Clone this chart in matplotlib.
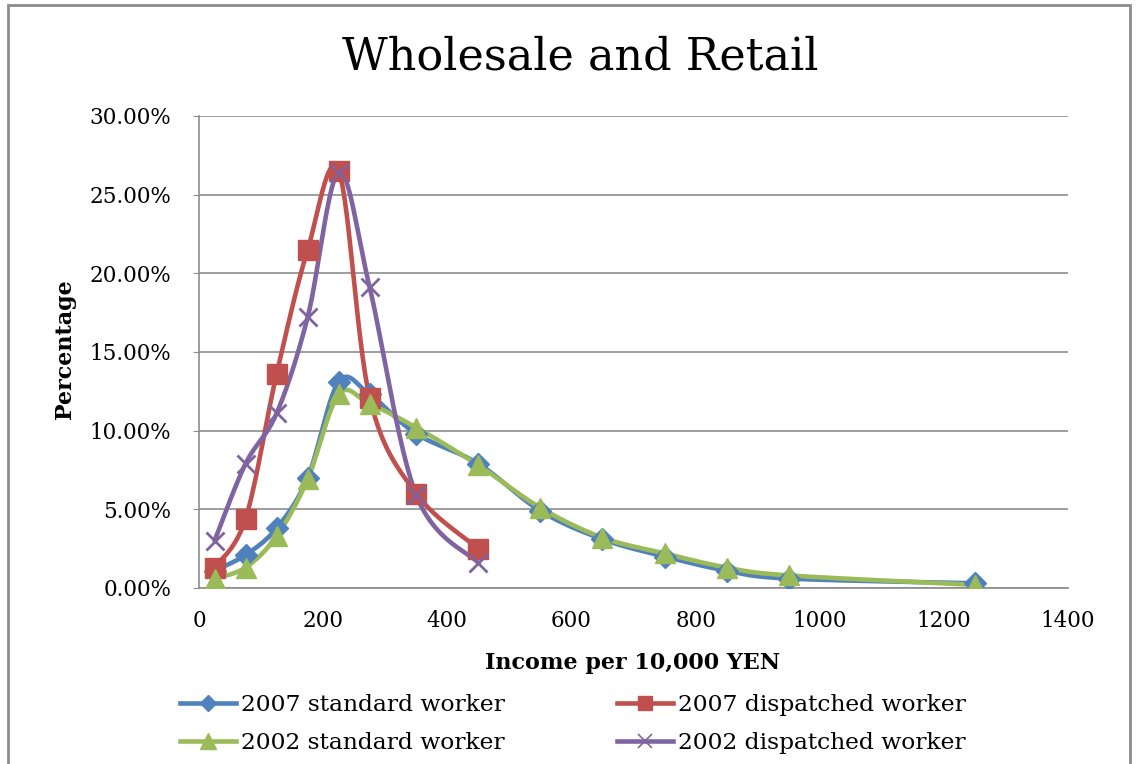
import matplotlib
matplotlib.use("Agg")
import matplotlib.pyplot as plt
from matplotlib.patches import Rectangle
from matplotlib.ticker import PercentFormatter
import numpy as np

# income bracket mid points (10,000 yen)
income_std = [25, 75, 125, 175, 225, 275, 350, 450, 550, 650, 750, 850, 950, 1250]
income_disp = [25, 75, 125, 175, 225, 275, 350, 450]

# percentages
std_2007 = [1.1, 2.1, 3.8, 7.0, 13.1, 12.3, 9.8, 7.9, 4.9, 3.1, 2.0, 1.1, 0.6, 0.3]
disp_2007 = [1.3, 4.4, 13.6, 21.5, 26.5, 12.1, 6.0, 2.5]
std_2002 = [0.6, 1.3, 3.3, 6.9, 12.3, 11.7, 10.2, 7.8, 5.1, 3.2, 2.2, 1.3, 0.8, 0.2]
disp_2002 = [3.0, 7.9, 11.1, 17.2, 26.4, 19.1, 5.9, 1.6]

labels = ["2007 standard worker", "2007 dispatched worker",
          "2002 standard worker", "2002 dispatched worker"]
colors = ["#4F81BD", "#C0504D", "#9BBB59", "#8064A2"]

plt.rcParams['font.family'] = ["DejaVu Serif"]


def smooth(x, y, n=30):
	# excel style smoothed line (catmull-rom bezier through the points)
	p = np.column_stack([x, y]).astype(float)
	out = []
	for i in range(len(p) - 1):
		p0 = p[i - 1] if i > 0 else p[i]
		p1 = p[i]
		p2 = p[i + 1]
		p3 = p[i + 2] if i + 2 < len(p) else p[i + 1]
		c1 = p1 + (p2 - p0) / 6.0
		c2 = p2 - (p3 - p1) / 6.0
		t = np.linspace(0, 1, n)[:, None]
		seg = ((1 - t) ** 3) * p1 + 3 * ((1 - t) ** 2) * t * c1 + 3 * (1 - t) * t ** 2 * c2 + t ** 3 * p2
		out.append(seg if i == 0 else seg[1:])
	out = np.vstack(out)
	return out[:, 0], out[:, 1]


W, H = 1137, 764
fig = plt.figure(figsize=(W / 100, H / 100), dpi=100)
fig.patch.set_facecolor("white")
fig.patches.append(Rectangle((8 / W, -0.05), (1130 - 8) / W, 1.05 - 5 / H,
                             transform=fig.transFigure, fill=False,
                             edgecolor="#8c8c8c", linewidth=2))

ax = fig.add_axes([199 / W, 1 - 588 / H, (1068 - 199) / W, (588 - 116) / H])

series = [
	(income_std, std_2007, "D", 11),
	(income_disp, disp_2007, "s", 14),
	(income_std, std_2002, "^", 15),
	(income_disp, disp_2002, "x", 13),
]
handles = []
for (xs, ys, mk, ms), lab, col in zip(series, labels, colors):
	sx, sy = smooth(xs, ys)
	ax.plot(sx, sy, color=col, linewidth=3.3, solid_capstyle="round", zorder=3)
	ax.plot(xs, ys, linestyle="none", marker=mk, markersize=ms, color=col,
	        markeredgewidth=1.0 if mk != "x" else 2, zorder=4)
	h, = plt.plot([], [], color=col, linewidth=3.3, marker=mk,
	              markersize=ms * 0.75, markeredgewidth=1.0 if mk != "x" else 1.2)
	handles.append(h)

ax.set_xlim(0, 1400)
ax.set_ylim(0, 30)
ax.set_xticks(np.arange(0, 1401, 200))
ax.set_yticks(np.arange(0, 30.1, 5))
ax.yaxis.set_major_formatter(PercentFormatter(decimals=2))
ax.grid(axis="y", color="#8c8c8c", linewidth=1.2)
ax.set_axisbelow(True)
for s in ["top", "right"]:
	ax.spines[s].set_visible(False)
for s in ["left", "bottom"]:
	ax.spines[s].set_color("#8c8c8c")
	ax.spines[s].set_linewidth(1.2)
ax.tick_params(axis="y", length=4, color="#8c8c8c", labelsize=15.5, pad=16)
ax.tick_params(axis="x", length=0, labelsize=15.5, pad=16)

fig.text(580 / W, 1 - 57 / H, "Wholesale and Retail", ha="center", va="center",
         fontsize=32)
fig.text(633 / W, 1 - 663 / H, "Income per 10,000 YEN", ha="center", va="center",
         fontsize=16, fontweight="bold")
fig.text(65 / W, 1 - 349 / H, "Percentage", ha="center", va="center",
         rotation=90, fontsize=16, fontweight="bold")

order = [0, 2, 1, 3]
leg = fig.legend([handles[i] for i in order], [labels[i] for i in order],
                 ncol=2, loc="upper left", bbox_to_anchor=(171 / W, 1 - 685 / H),
                 frameon=False, fontsize=16.8, handlelength=2.4, handletextpad=0.2,
                 columnspacing=4.8, labelspacing=0.68, borderaxespad=0)

fig.savefig("out.png", dpi=100, facecolor="white")
